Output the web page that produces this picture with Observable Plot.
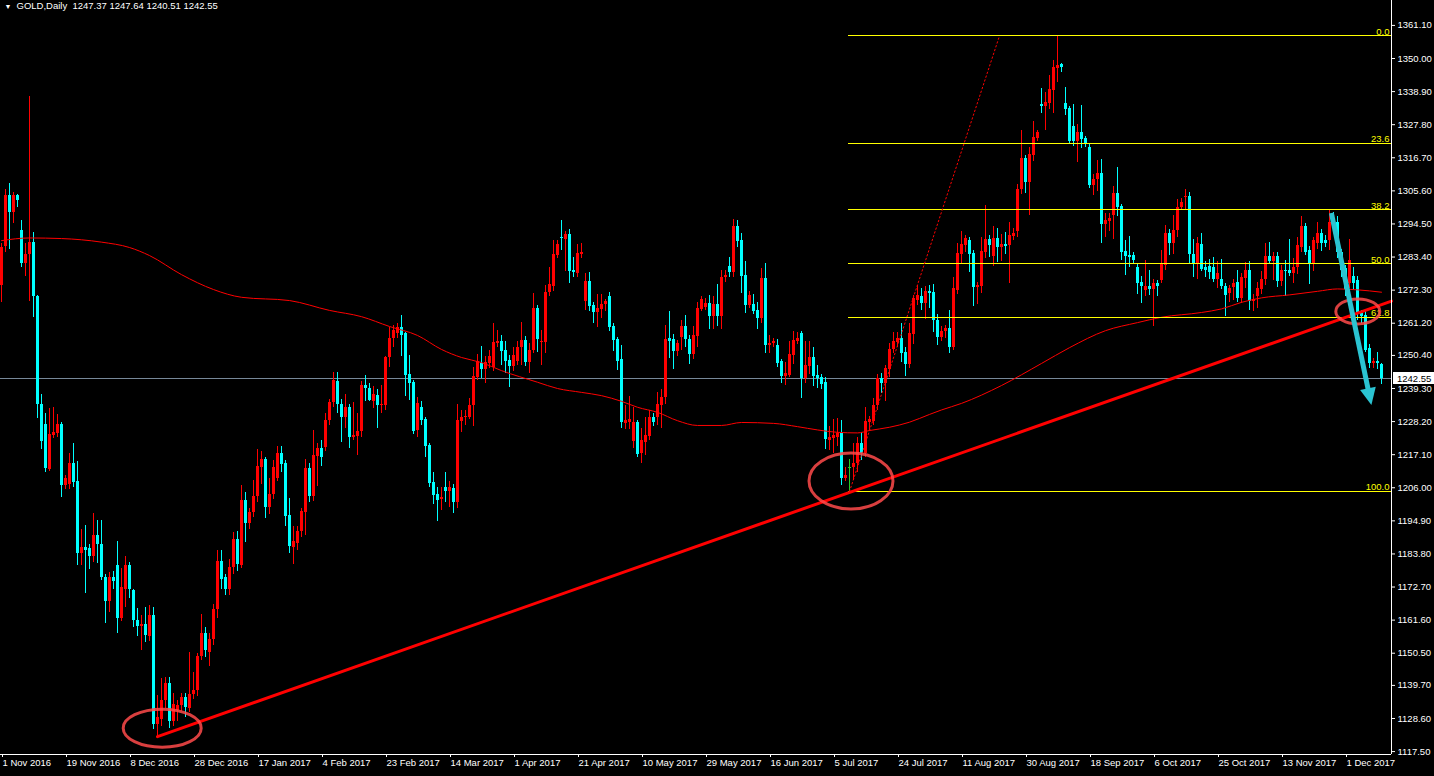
<!DOCTYPE html>
<html><head><meta charset="utf-8">
<script src="https://cdn.jsdelivr.net/npm/d3@7"></script>
<script src="https://cdn.jsdelivr.net/npm/@observablehq/plot@0.6"></script>
<style>html,body{margin:0;padding:0;background:#000;overflow:hidden}</style>
</head><body><div id="chart"></div>
<script>
// ---- data: daily OHLC, one entry per bar (bar index 0..345) ----
const opens = [
1274,1287,1304.2,1298.5,1304.2,1292.4,1281.3,1284.3,1288.4,1270,
1234.1,1227.2,1212.2,1223.4,1224.1,1227.2,1206.8,1207,1214.3,1208.2,
1184,1186,1185.5,1183,1190,1187,1176,1168,1176,1180,
1162,1172,1180,1171.4,1161.4,1159.3,1160,1156,1163.3,1126.5,
1128.2,1134.7,1140.3,1127.6,1131.3,1133,1135.7,1132,1136.5,1137.9,
1149.4,1157,1150.6,1155.2,1165.1,1181.3,1175.8,1172,1179.3,1188.6,
1180,1201.7,1194.1,1197.7,1203.1,1212.7,1215.4,1199.5,1203.9,1209,
1217.5,1214.2,1196.7,1186,1187.4,1191.4,1197.8,1212.4,1203.1,1216.5,
1219.1,1219.6,1228.6,1234.7,1241.7,1234,1229.7,1232.8,1223,1223.2,
1224.9,1240.3,1239.4,1235,1236.9,1233.6,1233.6,1249.6,1256,1257.7,
1259.7,1257.7,1244,1241.4,1225.2,1232.8,1228.9,1220.2,1207.9,1203.8,
1202,1206.2,1204.8,1205.6,1201.1,1228.3,1229.5,1229.6,1233.6,1243.1,
1247.6,1245.6,1247.8,1246.5,1254.5,1255.1,1252,1248.7,1246.7,1248.5,
1253,1255.4,1248.1,1252,1266.2,1254.6,1254.6,1271.6,1273.6,1284,
1290,1289.2,1291,1279,1278,1284.3,1268.6,1275.2,1267.2,1264.9,
1265.8,1267.4,1270.2,1260,1255.8,1249,1227.7,1228,1221.6,1227.8,
1217.5,1221.3,1223.2,1229.7,1229.5,1233.6,1236.4,1256,1255.7,1251.8,
1256.3,1260.1,1255.7,1250.7,1256.7,1265.8,1266.6,1267.7,1263.5,1267.5,
1263.5,1276.5,1280.2,1278.2,1293.6,1289,1277.3,1267.2,1267.5,1265.5,
1262.7,1276.1,1253.7,1254.5,1253.7,1248.2,1243.4,1243.7,1250.4,1254.9,
1257.9,1242.6,1246.7,1249.8,1243.7,1243.1,1241.4,1221.8,1222.5,1222.7,
1224.3,1209,1212.7,1212.7,1214,1220.7,1217.4,1228,1228.3,1233.6,
1242.6,1240.9,1245.6,1252.3,1254.8,1256.2,1251.5,1247.3,1257.4,1268.8,
1270.2,1267.9,1272,1271.5,1262,1256.5,1258.5,1259.4,1253,1272.2,
1284.3,1287.3,1289,1284.7,1273.1,1273.5,1285,1289.2,1283.6,1289.5,
1286.5,1287.6,1287.3,1290.3,1292.1,1306,1316.4,1308.5,1317.5,1323.1,
1334.6,1333.9,1334.8,1339.3,1346.5,1348,1334.8,1333.1,1327.2,1322.3,
1325.3,1323,1320.3,1307.4,1309.3,1311.3,1294.3,1295.4,1297.3,1304.6,
1300.3,1285.3,1283.8,1283.8,1279.8,1275,1272.2,1273.5,1272.4,1274.6,
1275.5,1280.6,1291.4,1287.9,1292.3,1300,1303.3,1303.8,1284.3,1281.1,
1287.6,1279.8,1280.2,1279.8,1276,1275.8,1273.5,1271.1,1273.3,1274.7,
1269.4,1276.1,1278.9,1268.6,1270,1272.5,1275.8,1283.6,1282,1283.6,
1275.1,1279,1278.9,1278,1279.8,1286.7,1293.5,1285.6,1281.4,1288.1,
1291.4,1288.9,1289,1295.2,1294.9,1285,1279.5,1274.4,1276.9,1275.6,
1264.4,1263.8,1252.6,1247.6,1248.5,1247.37
];
const highs = [
1288,1306,1308,1305,1304.5,1295.7,1288,1337.3,1291.7,1270.5,
1237.3,1231,1232.6,1233,1230.5,1228,1210,1217.5,1220.8,1214.8,
1192,1193.5,1187,1197.5,1195,1195,1177,1177.5,1178,1188,
1179,1183,1181,1172,1165.6,1163,1166,1166.5,1166,1136.3,
1142,1142.5,1142.2,1137,1134.5,1137,1137,1150.6,1144,1150.5,
1163.5,1159,1157,1167,1185,1185,1177,1182,1191,1191.3,
1206.8,1204.5,1199,1208.4,1218.9,1218,1216,1209,1215,1219.7,
1220,1215,1202.3,1193,1193,1199,1215.4,1214,1225.2,1221,
1222,1231,1235.5,1244.8,1244.5,1235.5,1237.3,1234,1234.7,1231,
1241.7,1243.6,1241,1240,1239,1240.3,1250,1259.7,1260.5,1261,
1263.8,1258,1250.4,1242,1236.4,1235,1229.5,1221,1211.2,1206.2,
1206,1211.2,1208,1207,1234,1232,1232,1236,1246.5,1250.8,
1253.4,1250,1252,1261,1258.7,1257,1254.9,1250.5,1253,1255,
1261.5,1256.7,1254.5,1271.3,1267,1258.7,1273.9,1280,1289,1289,
1295.7,1292,1292.5,1283.4,1287.6,1288,1277.8,1278.3,1268,1270.9,
1271,1269,1271.6,1261,1256.5,1253.7,1233.6,1236.6,1233,1228.5,
1225.8,1229.7,1232,1231,1237.8,1239,1260.4,1265.2,1257.5,1255.5,
1262.1,1263.8,1257,1260,1268.3,1270,1269.5,1270.5,1270,1274.2,
1278.9,1279,1283.4,1295.9,1295.5,1291.2,1282,1272,1271,1268,
1279.4,1281.1,1257.1,1256,1255.7,1249,1248,1254.9,1258.5,1258,
1258.5,1254.9,1254.9,1253.2,1247,1244,1243,1226.4,1228.8,1229.1,
1228.5,1212.7,1215.4,1220.7,1223,1224.4,1232.8,1230,1235.8,1244,
1244.2,1247,1254.5,1258.2,1258,1261,1253,1261,1270.5,1273.9,
1273,1273.5,1274,1274.2,1264,1260,1260.5,1265.5,1276.6,1287.9,
1292.1,1290.5,1290,1285.5,1275,1290,1300.7,1290.6,1293.6,1292.9,
1291,1291.5,1294.9,1293,1307.7,1325.8,1317.5,1320,1329,1326,
1339.8,1338.7,1344.3,1349.3,1357.6,1348.4,1340.2,1334,1334.6,1327.9,
1334.2,1324,1321,1311,1315.8,1316,1297.9,1298,1307.1,1313.6,
1301,1288.9,1290.3,1285,1281,1277,1282.2,1278.9,1276,1275.5,
1285.6,1294,1292.5,1297.3,1302.6,1303,1306,1305,1289.2,1290,
1291.2,1282,1282.5,1283.4,1282,1282.5,1274.4,1274,1276,1278.9,
1278,1281.7,1282,1271,1275,1278.5,1288,1288.4,1285,1285,
1280.5,1282.2,1289.2,1283,1290,1297,1294.5,1287,1290,1294.9,
1292.5,1290.5,1299.1,1298.5,1297,1286,1280.5,1289.2,1280,1276.9,
1265.5,1265.5,1254,1249.5,1251.5,1247.64
];
const lows = [
1268,1285,1286,1294.5,1300,1280,1277,1268.5,1263,1229.4,
1219,1211,1211.5,1222.5,1223,1202.8,1205.5,1205.4,1206,1180,
1180,1170.6,1178.5,1181,1180.6,1175,1160.6,1164,1172,1157,
1161,1166,1169,1159,1156,1151.3,1154,1154.5,1125,1122.7,
1126,1132,1125.4,1126,1127.6,1131,1129,1130.5,1135,1136,
1148,1149,1146,1153,1162,1172,1170,1170,1177,1178,
1179,1187.8,1192,1196,1201,1207,1195.6,1197,1202,1208,
1211,1193,1184,1180.4,1185,1189.2,1190,1201,1201.5,1206.4,
1213,1218,1227,1233,1230.8,1221.3,1226,1219.1,1221.8,1216.8,
1223,1235,1235,1232.5,1226,1231,1232,1246.5,1253.2,1256,
1250,1236.6,1235.3,1224,1222.7,1227,1216.3,1206,1200.5,1194.8,
1198.5,1201,1199.5,1197.3,1199,1224.4,1227,1229,1226.6,1242,
1242.5,1241,1246,1245,1253.2,1247.1,1244.2,1239.7,1245,1247,
1247,1246.7,1244.2,1251,1251.5,1247,1250.9,1270,1272,1283,
1285.6,1278.7,1274.4,1276.6,1276.6,1283,1265.5,1265,1261.2,1259.9,
1262.9,1265,1258.5,1251.8,1245.3,1225.8,1225.5,1225.5,1219.1,1216.3,
1214.3,1216.8,1222,1226.5,1226.9,1226,1234,1249.3,1245.6,1250,
1252,1253,1247.3,1249,1253,1265,1265.5,1259,1259,1260,
1259,1275,1276.5,1276.5,1286.7,1271.1,1264.4,1266,1264,1259,
1261,1251.1,1251,1253,1246.5,1240.9,1240.3,1243,1247.3,1254,
1235.8,1241.1,1244,1240,1239.2,1239,1218.7,1218.5,1217.4,1219.8,
1206.8,1208,1204.8,1208.4,1211,1215,1216,1225,1227,1232,
1237.5,1235,1243,1251,1253,1248,1243.4,1246,1254,1267,
1265.5,1262.3,1266,1258,1253.7,1255,1256,1251.1,1252,1271,
1281.4,1285,1278.3,1266.8,1267.5,1271.3,1283,1283.4,1280.3,1281.7,
1282,1284.3,1274.6,1289,1290,1304.5,1304.8,1297.3,1315.6,1322,
1331.6,1325.8,1333,1331.4,1342.1,1345.4,1330.9,1321.5,1320.5,1315.2,
1319.7,1320,1306.3,1304,1305.5,1287.8,1290,1292,1289.2,1297,
1282.2,1277.2,1280,1281,1270.8,1267.9,1270,1270.5,1260.1,1270,
1274.5,1279,1284,1284.3,1290,1299,1299,1281.4,1276.6,1276,
1278.5,1276.6,1276,1275,1273,1272.5,1263.5,1268,1268.8,1268,
1267.7,1273,1265.5,1265,1266,1271,1274,1281,1275.5,1273.1,
1273.5,1270,1277,1274.6,1277.5,1285,1284,1274.2,1278.5,1286,
1285.4,1286.5,1285.5,1292,1283,1276.6,1270,1273,1272.2,1262,
1261,1251.5,1245.9,1246,1245.7,1240.51
];
const closes = [
1286.6,1304.2,1298.5,1304,1302.2,1281.3,1284.3,1288.4,1270,1234.1,
1221.6,1212.4,1224,1224.4,1227.2,1206.8,1209,1214.3,1207.8,1184,
1186,1185,1183,1190,1187,1176,1168,1176,1174.5,1162.3,
1172.7,1180,1172,1161.4,1159.5,1160,1156.3,1163.3,1126.5,1129,
1134.7,1140.3,1127.6,1133.3,1133.1,1135.7,1132.4,1136.5,1137.9,1149.4,
1157,1151.3,1155,1165.1,1181.3,1175.2,1172,1179.3,1188.6,1180.2,
1201.7,1194.1,1197.7,1203.1,1213.1,1215.4,1199.5,1203.9,1212.9,1217.5,
1213.9,1196.4,1186.3,1188,1191.4,1198.1,1212.4,1203.1,1216.8,1219.1,
1216.3,1228.6,1234.7,1242,1233.9,1229.7,1232.8,1223,1223.6,1224.9,
1240.3,1239.2,1235.3,1237.3,1233.6,1234,1249.6,1256,1258.6,1259.9,
1257.1,1243.6,1241.1,1224.9,1234.2,1228.6,1219.9,1207.4,1203.5,1201.7,
1202.6,1204.8,1206.2,1201.1,1228.6,1229.7,1230,1233.6,1243.3,1248.5,
1245.6,1248.1,1250.1,1254.8,1255.1,1251.8,1248.5,1246.7,1250.4,1253.2,
1255.4,1248.1,1252,1266.2,1255.7,1255.2,1271.6,1274.2,1284.3,1287.6,
1289.5,1291,1278.7,1278.3,1284.5,1285,1275.2,1266.8,1264.9,1266.2,
1267.4,1268.5,1259.9,1255.4,1248.4,1228,1228.6,1229,1228,1217.2,
1221.9,1223.5,1229.7,1228,1234,1236.4,1255.6,1255.2,1251.8,1254.3,
1260.1,1255.7,1250.7,1257.1,1266.2,1269.2,1267.7,1263.5,1267.5,1263.5,
1276.6,1277.2,1278.2,1293.6,1288.7,1277,1267.2,1270.5,1265.2,1262.7,
1276.1,1253.7,1254.5,1255,1247.6,1243.4,1244.3,1250.7,1255.4,1256,
1242.6,1247,1249.8,1243.4,1242.6,1240.6,1222.1,1222.9,1223.4,1224.3,
1209,1210.1,1212.7,1214.3,1220.7,1217.4,1228.3,1228.8,1233.6,1242.6,
1240.9,1245.9,1252.3,1255.1,1256.2,1251.2,1247.3,1257.7,1269.4,1270.5,
1267.9,1272,1271.1,1262,1256.5,1258.5,1259.4,1253,1272.8,1284.5,
1287.6,1289.5,1284.3,1273.1,1273.9,1285.3,1289.2,1287.3,1289.5,1286.7,
1287.6,1287.3,1290.6,1291.4,1306,1316.4,1308.5,1317.8,1323.6,1325.3,
1333.9,1335.3,1339.5,1347.1,1347.7,1346.9,1332.8,1322.3,1322.3,1325.3,
1322.7,1321.6,1307.4,1309.3,1311.3,1294.3,1295.7,1296.2,1304.6,1300.1,
1285,1283.6,1283.6,1282.2,1274.6,1273.5,1273.5,1272.5,1274.4,1273.5,
1280.9,1291.4,1287.9,1292.3,1300.1,1301.8,1303.8,1284.2,1280.9,1287.8,
1279.1,1278.9,1278.3,1275.8,1278,1273.4,1270.5,1272.8,1274.4,1269.4,
1276.4,1278.9,1268.6,1269.1,1272.8,1275.8,1283.6,1282,1283.6,1275.1,
1278.9,1278.4,1278,1280,1287.3,1293.6,1285,1281.4,1288.9,1291.4,
1288.1,1288,1294.9,1294.2,1285,1278.9,1272.4,1282.2,1274.6,1264.1,
1263.5,1252,1247.8,1248.5,1247.7,1242.55
];
// moving average (read at selected bars)
const maBars = [0,7,15,25,32,37,45,53,60,72,82,90,97,104,110,115,120,125,134,139,145,150,155,159,164,169,174,180,185,193,199,204,209,214,217,222,227,232,235,240,250,260,267,276,284,290,300,305,310,315,322,329,334,339,345];
const maValues = [1288.9,1289.8,1289.6,1288.4,1286.6,1283.9,1277.5,1272.5,1269.9,1268.8,1265.5,1263.4,1260.1,1257.1,1252.4,1249.7,1248,1245.3,1241.4,1239.3,1238,1236.9,1235,1233,1231.3,1228.5,1226.9,1226.9,1227.9,1227.6,1226.5,1225.4,1224.6,1224.4,1225.2,1226.3,1228,1230.6,1232.1,1234.3,1240.3,1247.7,1253,1258.7,1261.4,1263.2,1264.8,1266,1268.2,1269.7,1270.7,1271.9,1272.7,1272.4,1271.6];
// axis ticks
const dateTickBars = [0,16,32,48,64,80,96,112,128,144,160,176,192,208,224,240,256,272,288,304,320,336];
const dateLabels = ["1 Nov 2016","19 Nov 2016","8 Dec 2016","28 Dec 2016","17 Jan 2017","4 Feb 2017","23 Feb 2017","14 Mar 2017","1 Apr 2017","21 Apr 2017","10 May 2017","29 May 2017","16 Jun 2017","5 Jul 2017","24 Jul 2017","11 Aug 2017","30 Aug 2017","18 Sep 2017","6 Oct 2017","25 Oct 2017","13 Nov 2017","1 Dec 2017"];
const priceTicks = [1361.10,1350.00,1338.90,1327.80,1316.70,1305.60,1294.50,1283.40,1272.30,1261.20,1250.40,1239.30,1228.20,1217.10,1206.00,1194.90,1183.80,1172.70,1161.60,1150.50,1139.70,1128.60,1117.50];
// annotations
const fibLevels = [0, 23.6, 38.2, 50, 61.8, 100];
const fibHigh = 1357.6, fibLow = 1204.75, fibStartBar = 211.75;
const fibDiagBars = [212, 249.5], fibDiagPrices = [1204.75, 1357.6];
const trendBars = [39, 347.5], trendPrices = [1122.5, 1268.6];
const lastPrice = 1242.55;
const circleBars = [40.3, 212.5, 339.2], circlePrices = [1125.2, 1208.1, 1265];
const arrowBars = [332.6, 342.6], arrowPrices = [1298, 1233.6];
const title = "GOLD,Daily\u00a0\u00a01247.37 1247.64 1240.51 1242.55";

// ---- build ----
const RED = "#ff0000", CYAN = "#00ffff", DOJI = "#22cc22";
const bars = opens.map((o, i) => ({i, o, h: highs[i], l: lows[i], c: closes[i]}));
const col = d => d.c > d.o ? RED : d.c < d.o ? CYAN : DOJI;
const ma = maBars.map((b, k) => ({b, v: maValues[k]}));
const fibs = fibLevels.map(L => ({L, p: fibHigh - (fibHigh - fibLow) * L / 100}));
const labelOf = new Map(dateTickBars.map((b, k) => [b, dateLabels[k]]));
const X0 = -0.25, X1 = 347.5, Y0 = 1116.52, Y1 = 1369.46;
const FONT = "'Liberation Sans', Arial, sans-serif";
const CRISP = "crispEdges";

const plot = Plot.plot({
  width: 1434, height: 776,
  marginLeft: 0, marginRight: 43, marginTop: 0, marginBottom: 22,
  style: {background: "#000", color: "#fff", fontFamily: FONT, fontSize: "9.5px"},
  x: {type: "linear", domain: [X0, X1]},
  y: {type: "linear", domain: [Y0, Y1]},
  marks: [
    Plot.ruleY([lastPrice], {stroke: "#778899", shapeRendering: CRISP}),
    Plot.ruleX(bars, {x: "i", y1: "l", y2: "h", stroke: col, strokeWidth: 1, shapeRendering: CRISP}),
    Plot.ruleX(bars, {x: "i", y1: "o", y2: "c", stroke: col, strokeWidth: 3, shapeRendering: CRISP}),
    Plot.ruleY(bars.filter(d => Math.abs(d.o - d.c) < 0.35), {y: "c", x1: d => d.i - 0.375, x2: d => d.i + 0.375, stroke: col, shapeRendering: CRISP}),
    Plot.line(ma, {x: "b", y: "v", stroke: RED, strokeWidth: 1, curve: "monotone-x"}),
    Plot.ruleY(fibs, {y: "p", x1: fibStartBar, x2: X1, stroke: "#ffff00", shapeRendering: CRISP}),
    Plot.text(fibs, {x: X1, y: "p", text: d => d.L.toFixed(1), textAnchor: "end", lineAnchor: "bottom", dx: -2, dy: -1, fill: "#ffff00", fontSize: 9.5}),
    Plot.line(fibDiagBars.map((b, k) => ({b, p: fibDiagPrices[k]})), {x: "b", y: "p", stroke: RED, strokeWidth: 1, strokeDasharray: "1.5,2.5"}),
    Plot.line(trendBars.map((b, k) => ({b, p: trendPrices[k]})), {x: "b", y: "p", stroke: RED, strokeWidth: 3}),
    Plot.ruleX([X1], {stroke: "#fff", shapeRendering: CRISP}),
    Plot.ruleY([Y0], {x1: X0, x2: X1, stroke: "#fff", shapeRendering: CRISP}),
    Plot.axisY(priceTicks, {anchor: "right", tickSize: 3, tickPadding: 3, tickFormat: d => d.toFixed(2), color: "#fff", fontSize: 9.5}),
    Plot.axisX(dateTickBars, {anchor: "bottom", tickSize: 3, tickPadding: 2, tickFormat: d => labelOf.get(d), textAnchor: "start", dx: 1, color: "#fff", fontSize: 9.5}),
    Plot.text(["\u25BC"], {frameAnchor: "top-left", dx: 4, dy: 4, lineAnchor: "top", textAnchor: "start", fill: "#fff", fontSize: 7}),
    Plot.text([title], {frameAnchor: "top-left", dx: 16, dy: 2, lineAnchor: "top", textAnchor: "start", fill: "#fff", fontSize: 9.5})
  ]
});

// overlays drawn through the plot's own scales
const svg = d3.select(plot);
const sx = plot.scale("x"), sy = plot.scale("y");
const radii = [[39, 19], [42, 28], [22, 12.5]];
circleBars.forEach((b, k) => {
  svg.append("ellipse")
    .attr("cx", sx.apply(b)).attr("cy", sy.apply(circlePrices[k]))
    .attr("rx", radii[k][0]).attr("ry", radii[k][1])
    .attr("fill", "none").attr("stroke", "#ff4a4a").attr("stroke-opacity", 0.85).attr("stroke-width", 3);
});
{
  const ax1 = sx.apply(arrowBars[0]), ay1 = sy.apply(arrowPrices[0]);
  const ax2 = sx.apply(arrowBars[1]), ay2 = sy.apply(arrowPrices[1]);
  const len = Math.hypot(ax2 - ax1, ay2 - ay1), ux = (ax2 - ax1) / len, uy = (ay2 - ay1) / len;
  const hl = 17, hw = 8, bx = ax2 - ux * hl, by = ay2 - uy * hl;
  const AC = "#2bc3d1";
  svg.append("line").attr("x1", ax1).attr("y1", ay1).attr("x2", bx + ux * 2).attr("y2", by + uy * 2)
    .attr("stroke", AC).attr("stroke-width", 5);
  svg.append("polygon").attr("points", `${ax2},${ay2} ${bx - uy * hw},${by + ux * hw} ${bx + uy * hw},${by - ux * hw}`)
    .attr("fill", AC);
}
{
  const yy = sy.apply(lastPrice);
  const x0 = sx.apply(X1) + 2;
  svg.append("rect").attr("x", x0).attr("y", Math.round(yy) - 6).attr("width", 1434 - x0).attr("height", 12).attr("fill", "#fff");
  svg.append("text").attr("x", x0 + 4).attr("y", yy).attr("dy", "0.35em").attr("fill", "#000")
    .attr("text-anchor", "start")
    .attr("font-family", FONT).attr("font-size", "9.5px").text(lastPrice.toFixed(2));
}
document.getElementById("chart").appendChild(plot);
</script>
</body></html>
